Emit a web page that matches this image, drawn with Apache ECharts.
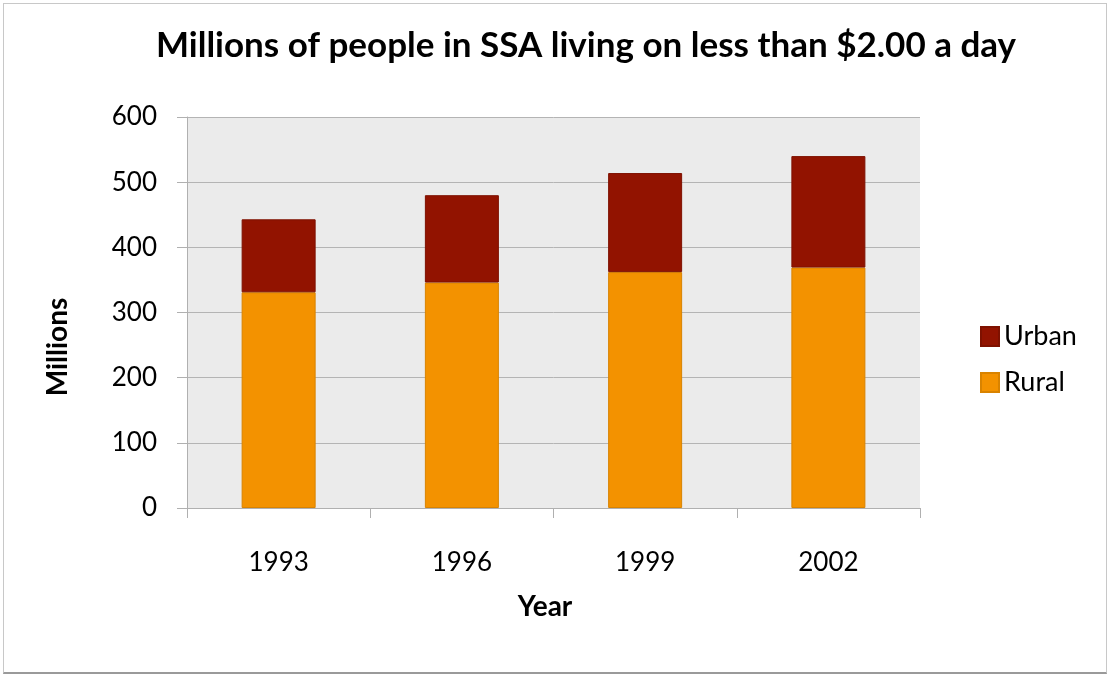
<!DOCTYPE html>
<html>
<head>
<meta charset="utf-8">
<script src="https://cdn.jsdelivr.net/npm/echarts@6/dist/echarts.min.js"></script>
<style>
  html, body { margin: 0; padding: 0; background: #fff; }
  #frame {
    position: absolute; left: 3px; top: 3px; width: 1102px; height: 668px;
    border: 1px solid #c8c8c8; border-bottom: 2px solid #9a9a9a;
  }
  #chart { position: absolute; left: 0; top: 0; width: 1109px; height: 675px; }
</style>
</head>
<body>
<div id="frame"></div>
<div id="chart"></div>
<script>
// 数据
var years = ['1993', '1996', '1999', '2002'];
var rural = [331, 346, 362, 369];
var urban = [112, 134, 152, 171];
var yTicks = [0, 100, 200, 300, 400, 500, 600];

var FONT = 'Lato';
var chart = echarts.init(document.getElementById('chart'));

chart.setOption({
  animation: false,
  title: {
    text: 'Millions of people in SSA living on less than $2.00 a day',
    left: 151,
    top: 23,
    textStyle: { fontFamily: FONT, fontWeight: 'bold', fontSize: 35, color: '#000' }
  },
  legend: {
    data: ['Urban', 'Rural'],
    orient: 'vertical',
    left: 975,
    top: 318,
    icon: 'rect',
    itemWidth: 18,
    itemHeight: 19,
    itemGap: 19,
    textStyle: { fontFamily: FONT, fontSize: 27, color: '#000', lineHeight: 27 }
  },
  grid: {
    left: 187, right: 189, top: 117, bottom: 167,
    show: true, backgroundColor: '#ebebeb', borderWidth: 0
  },
  // 坐标轴标题（位置与参考图对齐）
  graphic: [
    {
      type: 'text', left: 'auto', x: 58, y: 347, rotation: Math.PI / 2,
      style: {
        text: 'Millions', fontFamily: FONT, fontWeight: 'bold', fontSize: 28,
        fill: '#000', align: 'center', verticalAlign: 'middle'
      }
    },
    {
      type: 'text', x: 545, y: 607,
      style: {
        text: 'Year', fontFamily: FONT, fontWeight: 'bold', fontSize: 28,
        fill: '#000', align: 'center', verticalAlign: 'middle'
      }
    }
  ],
  xAxis: {
    type: 'category',
    data: years,
    axisLine: { lineStyle: { color: '#b0b0b0', width: 1 } },
    axisTick: { show: true, length: 10, alignWithLabel: false, lineStyle: { color: '#b0b0b0' } },
    axisLabel: { margin: 42, fontFamily: FONT, fontSize: 26, color: '#000' }
  },
  yAxis: {
    type: 'value',
    min: yTicks[0],
    max: yTicks[yTicks.length - 1],
    interval: 100,
    axisLine: { show: true, lineStyle: { color: '#b0b0b0', width: 1 } },
    axisTick: { show: true, length: 10, lineStyle: { color: '#b0b0b0' } },
    axisLabel: { margin: 30, fontFamily: FONT, fontSize: 26, color: '#000' },
    splitLine: { lineStyle: { color: '#b4b4b4', width: 1 } }
  },
  series: [
    {
      name: 'Rural', type: 'bar', stack: 'total', barWidth: 74,
      itemStyle: { color: '#f39200', borderColor: '#d98300', borderWidth: 1 },
      data: rural
    },
    {
      name: 'Urban', type: 'bar', stack: 'total', barWidth: 74,
      itemStyle: { color: '#921300', borderColor: '#7e1100', borderWidth: 1 },
      data: urban
    }
  ]
});
</script>
</body>
</html>
